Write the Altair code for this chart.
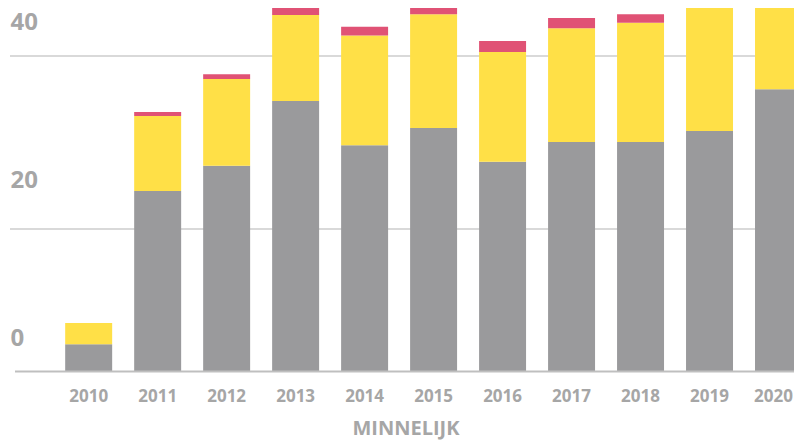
import altair as alt
import pandas as pd

# ---- data ----
years = ["2010", "2011", "2012", "2013", "2014", "2015", "2016", "2017", "2018", "2019", "2020"]
gray_vals = [3.5, 22.9, 26.1, 34.3, 28.7, 30.9, 26.6, 29.1, 29.1, 30.5, 35.8]
yellow_vals = [2.7, 9.5, 11.0, 10.9, 13.9, 14.4, 13.9, 14.4, 15.1, 15.7, 13.0]
pink_vals = [0.0, 0.5, 0.6, 0.9, 1.1, 1.1, 1.4, 1.3, 1.1, 1.2, 1.2]
series_names = ["grijs", "geel", "roze"]
series_colors = ["#9a9a9c", "#ffe047", "#e05275"]
y_tick_values = [0, 20, 40]
y_tick_labels = ["0", "20", "40"]
grid_values = [18.1, 40]
x_title = "MINNELIJK"

W = 792
H = 372
TEXT = "#a6a6a6"
FONT = "Open Sans"

rows = []
for i, yr in enumerate(years):
    for k, (name, vals) in enumerate(zip(series_names, [gray_vals, yellow_vals, pink_vals])):
        rows.append({"year": yr, "series": name, "value": vals[i], "order": k})
df = pd.DataFrame(rows)

xscale = alt.Scale(domain=years, paddingInner=0.319, paddingOuter=0.4, align=1)
yscale = alt.Scale(domain=[0, 47.09], nice=False, zero=True)

grid = alt.Chart(pd.DataFrame({"v": grid_values})).mark_rule(
    color="#d9d9d9", strokeWidth=2
).encode(
    y=alt.Y("v:Q", scale=yscale, axis=None),
    x=alt.value(0), x2=alt.value(W),
)

bars = alt.Chart(df).mark_bar(clip=True).encode(
    x=alt.X("year:N", scale=xscale, axis=None, sort=years),
    y=alt.Y("value:Q", stack="zero", scale=yscale, axis=None),
    color=alt.Color("series:N", scale=alt.Scale(domain=series_names, range=series_colors), legend=None),
    order=alt.Order("order:Q"),
)

baseline = alt.Chart(pd.DataFrame({"v": [y_tick_values[0]]})).mark_rule(
    color="#bfbfbf", strokeWidth=2
).encode(
    y=alt.value(H - 0.5),
    x=alt.value(5), x2=alt.value(W),
)

ylabels = alt.Chart(pd.DataFrame({"v": y_tick_values, "t": y_tick_labels})).mark_text(
    align="left", baseline="alphabetic", dy=-26, font=FONT, fontSize=24,
    fontWeight="bold", color=TEXT
).encode(
    y=alt.Y("v:Q", scale=yscale, axis=None),
    x=alt.value(0.5),
    text="t:N",
)

label_style = dict(align="center", baseline="alphabetic", font=FONT, fontSize=17,
                   fontWeight="bold", color=TEXT)

xlabels = alt.Chart(pd.DataFrame({"year": years[:-1]})).mark_text(**label_style).encode(
    x=alt.X("year:N", scale=xscale, axis=None, sort=years),
    y=alt.value(402),
    text="year:N",
)

# last label nudged left so it stays inside the visible page
xlabel_last = alt.Chart(pd.DataFrame({"year": years[-1:]})).mark_text(dx=-5, **label_style).encode(
    x=alt.X("year:N", scale=xscale, axis=None, sort=years),
    y=alt.value(402),
    text="year:N",
)

title = alt.Chart(pd.DataFrame({"t": [x_title]})).mark_text(
    align="center", baseline="alphabetic", font=FONT, fontSize=20,
    fontWeight="bold", color=TEXT
).encode(
    x=alt.value(W / 2),
    y=alt.value(435),
    text="t:N",
)

chart = alt.layer(grid, bars, baseline, ylabels, xlabels, xlabel_last, title).properties(
    width=W, height=H,
    autosize=alt.AutoSizeParams(type="none"),
    padding={"left": 2, "top": -8, "right": -8, "bottom": 68},
).configure_view(stroke=None)

chart.save("out.html", embed_options={"renderer": "svg", "actions": False})
